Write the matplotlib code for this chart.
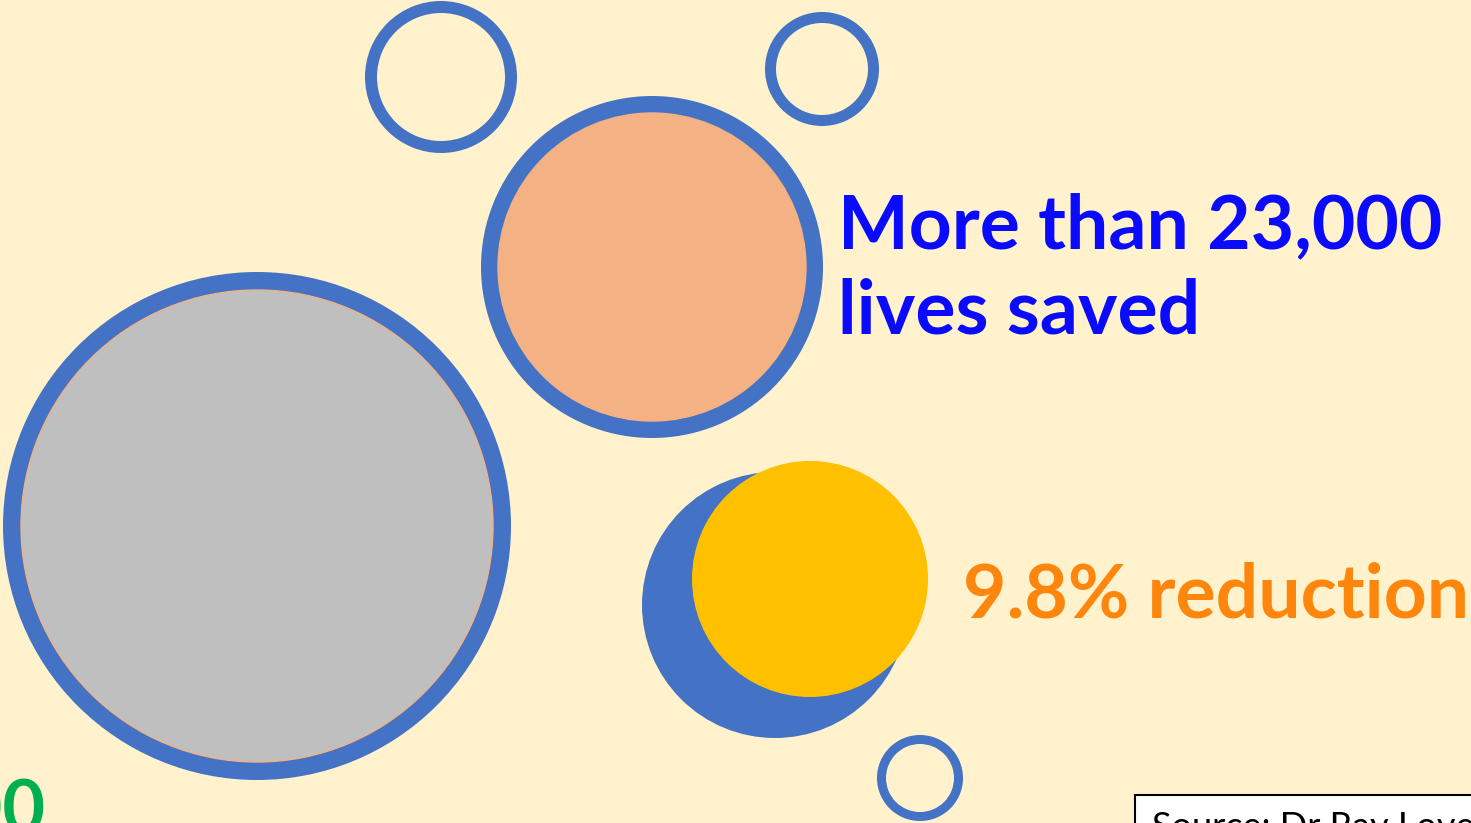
import matplotlib.pyplot as plt
from matplotlib.patches import Circle, Wedge, Rectangle

# Colours
bg = '#FFF2CC'
blue = '#4472C4'

# Rings (hollow): centre x, centre y, outer radius, ring width
ring_x = [441, 822, 920]
ring_y = [77, 69, 778]
ring_r = [76, 57, 43]
ring_w = [12, 11, 9]

# Filled bubbles with blue border: centre, outer radius, border, fill colour
bubble_x = [257, 652]
bubble_y = [526, 267]
bubble_r = [254, 171]
bubble_border = [18, 17]
bubble_fill = ['#BFBFBF', '#F4B183']

# Blue disc with yellow disc on top
disc_x = [775, 810]
disc_y = [605, 579]
disc_r = [133, 118]
disc_color = [blue, '#FFC000']

fig = plt.figure(figsize=(14.71, 8.23), dpi=100)
fig.patch.set_facecolor(bg)
ax = fig.add_axes([0, 0, 1, 1])
ax.set_facecolor(bg)
ax.set_xlim(0, 1471)
ax.set_ylim(823, 0)
ax.set_aspect('equal')
ax.axis('off')

for x, y, r, w in zip(ring_x, ring_y, ring_r, ring_w):
    ax.add_patch(Wedge((x, y), r, 0, 360, width=w, color=blue, lw=0))

for x, y, r, b, c in zip(bubble_x, bubble_y, bubble_r, bubble_border, bubble_fill):
    ax.add_patch(Circle((x, y), r, color=blue, lw=0))
    ax.add_patch(Circle((x, y), r - b, facecolor=c, edgecolor='#F4B183', lw=1))

for x, y, r, c in zip(disc_x, disc_y, disc_r, disc_color):
    ax.add_patch(Circle((x, y), r, color=c, lw=0))

font = ['Lato', 'DejaVu Sans']
ax.text(838, 248, 'More than 23,000', color='#0A0AFF', fontsize=54,
        fontweight='bold', family=font, va='baseline', ha='left')
ax.text(838, 333, 'lives saved', color='#0A0AFF', fontsize=54,
        fontweight='bold', family=font, va='baseline', ha='left')
ax.text(963, 617, '9.8% reduction', color='#FF860D', fontsize=54,
        fontweight='bold', family=font, va='baseline', ha='left')
ax.text(46, 833, '4,000', color='#00B050', fontsize=53,
        fontweight='bold', family=font, va='baseline', ha='right')

# Source box, cut off by the slide edge
ax.add_patch(Rectangle((1135, 795), 400, 60, facecolor='white',
                       edgecolor='black', lw=1.5))
ax.text(1152, 838, 'Source: Dr Ray Love', color='black', fontsize=26,
        family=font, va='baseline', ha='left')

fig.savefig('out.png', dpi=100, facecolor=bg)
